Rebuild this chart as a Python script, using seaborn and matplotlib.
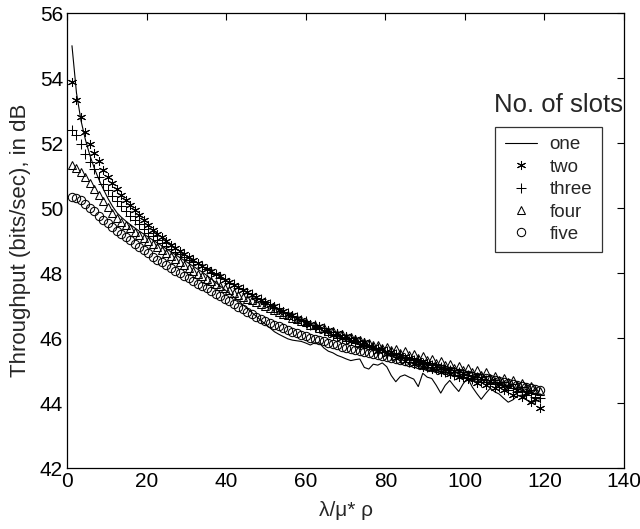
import numpy as np
import pandas as pd
import matplotlib
matplotlib.use("Agg")
import matplotlib.pyplot as plt
import seaborn as sns

# x positions of the samples (regular grid of lambda/mu*rho values)
x_vals = np.linspace(1.2, 118.8, 105)

# throughput in dB
one = [
    55.00, 53.55, 52.70, 52.10, 51.62, 51.22, 50.88, 50.58, 50.30, 50.06, 49.86, 49.72, 49.60, 49.49, 49.39,
    49.29, 49.20, 49.11, 49.02, 48.93, 48.84, 48.75, 48.66, 48.57, 48.48, 48.39, 48.30, 48.21, 48.12, 48.03,
    47.93, 47.82, 47.71, 47.60, 47.49, 47.38, 47.27, 47.15, 47.03, 46.91, 46.79, 46.67, 46.55, 46.43, 46.32,
    46.20, 46.12, 46.05, 45.98, 45.94, 45.92, 45.90, 45.85, 45.79, 45.86, 45.85, 45.70, 45.60, 45.55, 45.47,
    45.42, 45.36, 45.31, 45.34, 45.36, 45.10, 45.05, 45.20, 45.17, 45.24, 45.12, 44.85, 44.66, 44.82, 44.87,
    44.80, 44.74, 44.51, 44.92, 44.80, 44.76, 44.55, 44.31, 44.55, 44.70, 44.52, 44.36, 44.60, 44.77, 44.50,
    44.30, 44.12, 44.30, 44.46, 44.35, 44.28, 44.15, 44.03, 44.10, 44.22, 44.25, 44.12, 44.00, 44.06, 44.10,
]
two = [
    53.87, 53.33, 52.80, 52.34, 51.97, 51.69, 51.45, 51.18, 50.96, 50.77, 50.60, 50.42, 50.26, 50.10, 49.95,
    49.80, 49.63, 49.47, 49.33, 49.21, 49.10, 48.99, 48.88, 48.78, 48.68, 48.58, 48.49, 48.40, 48.31, 48.22,
    48.13, 48.06, 47.96, 47.90, 47.80, 47.74, 47.64, 47.58, 47.48, 47.43, 47.32, 47.27, 47.16, 47.12, 47.02,
    46.98, 46.87, 46.85, 46.74, 46.70, 46.62, 46.57, 46.47, 46.45, 46.33, 46.36, 46.22, 46.26, 46.10, 46.16,
    46.02, 46.07, 45.92, 45.97, 45.80, 45.88, 45.76, 45.72, 45.60, 45.68, 45.50, 45.58, 45.38, 45.47, 45.30,
    45.38, 45.22, 45.32, 45.12, 45.24, 45.06, 45.15, 44.96, 45.06, 44.90, 44.99, 44.80, 44.92, 44.74, 44.82,
    44.62, 44.76, 44.55, 44.68, 44.46, 44.58, 44.40, 44.52, 44.26, 44.42, 44.18, 44.32, 44.05, 44.14, 43.86,
]
three = [
    52.41, 52.24, 51.98, 51.68, 51.43, 51.20, 50.97, 50.75, 50.55, 50.38, 50.22, 50.06, 49.91, 49.77, 49.63,
    49.50, 49.37, 49.25, 49.14, 49.03, 48.93, 48.84, 48.75, 48.66, 48.58, 48.50, 48.42, 48.35, 48.27, 48.20,
    48.14, 48.02, 47.98, 47.86, 47.83, 47.70, 47.66, 47.55, 47.50, 47.40, 47.36, 47.24, 47.20, 47.10, 47.06,
    46.94, 46.92, 46.80, 46.78, 46.68, 46.66, 46.55, 46.52, 46.42, 46.40, 46.30, 46.30, 46.19, 46.20, 46.08,
    46.10, 45.98, 46.00, 45.88, 45.90, 45.78, 45.80, 45.68, 45.70, 45.58, 45.60, 45.48, 45.50, 45.38, 45.40,
    45.28, 45.32, 45.20, 45.24, 45.12, 45.17, 45.04, 45.10, 44.96, 45.02, 44.88, 44.95, 44.82, 44.88, 44.74,
    44.80, 44.66, 44.72, 44.58, 44.64, 44.50, 44.56, 44.42, 44.48, 44.34, 44.38, 44.26, 44.30, 44.18, 44.15,
]
four = [
    51.33, 51.24, 51.12, 50.97, 50.79, 50.60, 50.41, 50.22, 50.03, 49.86, 49.71, 49.59, 49.48, 49.38, 49.28,
    49.18, 49.09, 49.00, 48.90, 48.81, 48.72, 48.63, 48.54, 48.44, 48.35, 48.25, 48.16, 48.07, 47.98, 47.90,
    47.82, 47.75, 47.68, 47.61, 47.54, 47.47, 47.40, 47.34, 47.28, 47.22, 47.16, 47.10, 47.04, 46.98, 46.92,
    46.86, 46.82, 46.74, 46.71, 46.63, 46.60, 46.52, 46.50, 46.42, 46.40, 46.32, 46.30, 46.23, 46.22, 46.14,
    46.12, 46.05, 46.03, 45.96, 45.95, 45.88, 45.86, 45.79, 45.80, 45.71, 45.72, 45.63, 45.66, 45.55, 45.62,
    45.47, 45.50, 45.40, 45.45, 45.32, 45.36, 45.24, 45.30, 45.17, 45.22, 45.09, 45.15, 45.02, 45.08, 44.95,
    45.02, 44.87, 44.95, 44.79, 44.85, 44.71, 44.78, 44.64, 44.70, 44.56, 44.62, 44.49, 44.52, 44.42, 44.38,
]
five = [
    50.36, 50.31, 50.24, 50.14, 50.02, 49.90, 49.77, 49.65, 49.53, 49.42, 49.31, 49.21, 49.11, 49.01, 48.91,
    48.81, 48.71, 48.61, 48.51, 48.42, 48.33, 48.24, 48.16, 48.08, 48.00, 47.92, 47.84, 47.76, 47.68, 47.61,
    47.53, 47.45, 47.37, 47.29, 47.21, 47.13, 47.05, 46.97, 46.89, 46.81, 46.73, 46.66, 46.60, 46.54, 46.48,
    46.41, 46.36, 46.30, 46.25, 46.20, 46.15, 46.10, 46.06, 46.02, 45.98, 45.94, 45.90, 45.86, 45.82, 45.78,
    45.74, 45.71, 45.67, 45.64, 45.61, 45.57, 45.54, 45.51, 45.48, 45.45, 45.42, 45.39, 45.36, 45.33, 45.30,
    45.27, 45.24, 45.21, 45.18, 45.15, 45.12, 45.09, 45.06, 45.03, 45.00, 44.97, 44.94, 44.91, 44.88, 44.85,
    44.82, 44.79, 44.76, 44.73, 44.70, 44.67, 44.64, 44.61, 44.58, 44.55, 44.52, 44.49, 44.46, 44.43, 44.40,
]

df = pd.DataFrame({"x": x_vals, "one": one, "two": two, "three": three,
                   "four": four, "five": five})

sns.set_style("white")
plt.rcParams["font.family"] = ["Liberation Sans", "DejaVu Sans"]

fig = plt.figure(figsize=(6.4, 5.29), dpi=100)
ax = fig.add_axes([0.105, 0.115, 0.87, 0.86])

# solid line for single slot
sns.lineplot(data=df, x="x", y="one", ax=ax, color="black", lw=0.8, label="one")

# marker-only series
marker_kw = dict(linestyle="", color="black", markerfacecolor="none",
                 markeredgecolor="black", markeredgewidth=0.75)
sns.lineplot(data=df, x="x", y="two", ax=ax, marker=(6, 2, 0), markersize=6.5,
             label="two", **marker_kw)
sns.lineplot(data=df, x="x", y="three", ax=ax, marker="+", markersize=7,
             label="three", **marker_kw)
sns.lineplot(data=df, x="x", y="four", ax=ax, marker="^", markersize=6,
             label="four", **marker_kw)
sns.lineplot(data=df, x="x", y="five", ax=ax, marker="o", markersize=6,
             label="five", **marker_kw)

ax.set_xlim(0, 140)
ax.set_ylim(42, 56)
ax.set_xticks(range(0, 141, 20))
ax.set_yticks(range(42, 57, 2))
ax.tick_params(direction="in", length=5, width=0.8, labelsize=15,
               top=True, right=True, colors="black", pad=3)
for s in ax.spines.values():
    s.set_color("black")
    s.set_linewidth(0.9)

ax.set_xlabel("λ/μ* ρ", fontsize=15, labelpad=7)
ax.set_ylabel("Throughput (bits/sec), in dB", fontsize=16, labelpad=6)

leg = ax.legend(loc="upper right", bbox_to_anchor=(0.96, 0.75), fontsize=13.5,
                frameon=True, fancybox=False, edgecolor="black",
                handlelength=1.7, handletextpad=0.7, labelspacing=0.28,
                borderpad=0.5, borderaxespad=0)
leg.get_frame().set_linewidth(0.9)
fig.text(0.872, 0.778, "No. of slots", fontsize=18.5, ha="center", va="bottom")

fig.savefig("out.png", dpi=100)
